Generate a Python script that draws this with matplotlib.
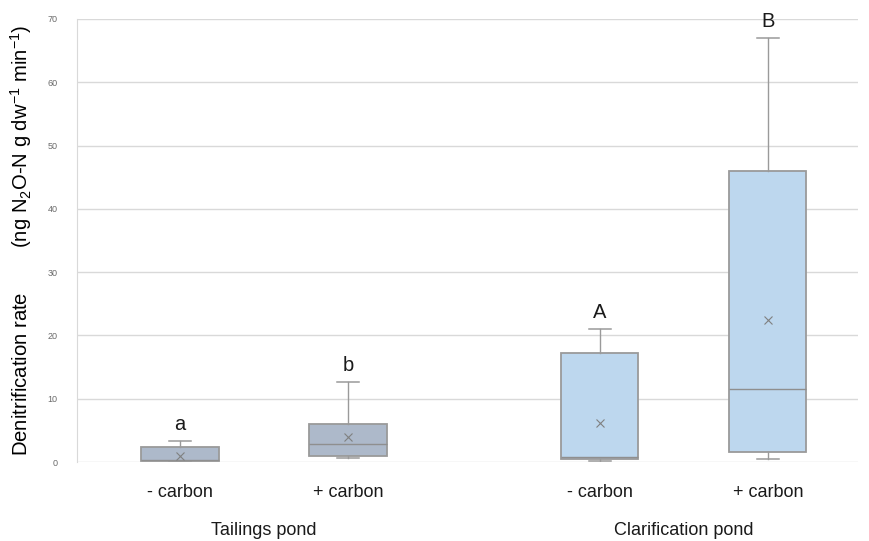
import matplotlib
matplotlib.use("Agg")
import matplotlib.pyplot as plt
import matplotlib.transforms as mtransforms

# --- Data ---
labels = ["- carbon", "+ carbon", "- carbon", "+ carbon"]
groups = ["Tailings pond", "Clarification pond"]
letters = ["a", "b", "A", "B"]
whislo = [0.0, 0.6, 0.2, 0.4]
q1 = [0.2, 0.95, 0.4, 1.6]
med = [0.3, 2.8, 0.8, 11.6]
q3 = [2.3, 6.0, 17.2, 46.0]
whishi = [3.3, 12.6, 21.0, 67.0]
means = [1.0, 3.9, 6.1, 22.4]
positions = [1, 2, 3.5, 4.5]
fills = ["#adb9ca", "#adb9ca", "#bdd7ee", "#bdd7ee"]

# --- Fonts ---
fam = "Liberation Sans"
plt.rcParams["font.family"] = [fam, "DejaVu Sans"]
plt.rcParams["mathtext.fontset"] = "custom"
plt.rcParams["mathtext.rm"] = fam
plt.rcParams["mathtext.it"] = fam
plt.rcParams["mathtext.default"] = "rm"

# --- Plotting ---
fig = plt.figure(figsize=(8.7, 5.41), dpi=100)
ax = fig.add_axes([0.0885, 0.146, 0.8975, 0.819])

stats = []
for i in range(len(labels)):
    stats.append(dict(whislo=whislo[i], q1=q1[i], med=med[i], q3=q3[i],
                      whishi=whishi[i], mean=means[i], fliers=[]))

edge = "#9a9a9a"
bp = ax.bxp(stats, positions=positions, widths=0.46, patch_artist=True,
            showmeans=True, showcaps=True,
            boxprops=dict(edgecolor=edge, linewidth=1.3),
            medianprops=dict(color="#8f8f8f", linewidth=1.0),
            whiskerprops=dict(color=edge, linewidth=1.0),
            capprops=dict(color=edge, linewidth=1.1),
            meanprops=dict(marker="x", markeredgecolor="#808080",
                           markersize=6, markeredgewidth=0.8))
for patch, c in zip(bp["boxes"], fills):
    patch.set_facecolor(c)
    patch.set_zorder(2)
for cap in bp["caps"]:
    x = cap.get_xdata()
    m = (x[0] + x[1]) / 2
    cap.set_xdata([m - 0.066, m + 0.066])

for p, top, lt in zip(positions, whishi, letters):
    ax.annotate(lt, (p, top), xytext=(0, 5), textcoords="offset points",
                ha="center", va="bottom", fontsize=14.5, color="#1a1a1a")

ax.set_ylim(0, 70)
ax.set_xlim(0.387, 5.036)
ax.set_yticks(range(0, 71, 10))
ax.tick_params(axis="y", labelsize=6.5, colors="#6a6a6a", length=0, pad=14)
ax.set_xticks(positions)
ax.set_xticklabels(labels, fontsize=13)
ax.tick_params(axis="x", length=0, pad=16, colors="#1a1a1a")
ax.grid(axis="y", color="#d9d9d9", linewidth=1.0)
ax.set_axisbelow(True)
for s in ["top", "right", "bottom"]:
    ax.spines[s].set_visible(False)
ax.spines["left"].set_color("#d9d9d9")

ax.set_ylabel("Denitrification rate        (ng N$_2$O-N g dw$^{-1}$ min$^{-1}$)",
              fontsize=14.6, labelpad=10)

trans = mtransforms.blended_transform_factory(ax.transData, ax.transAxes)
group_x = [(positions[0] + positions[1]) / 2, (positions[2] + positions[3]) / 2]
for gx, g in zip(group_x, groups):
    ax.text(gx, -0.155, g, transform=trans, ha="center", va="center",
            fontsize=13, color="#1a1a1a")

fig.savefig("out.png", dpi=100)
